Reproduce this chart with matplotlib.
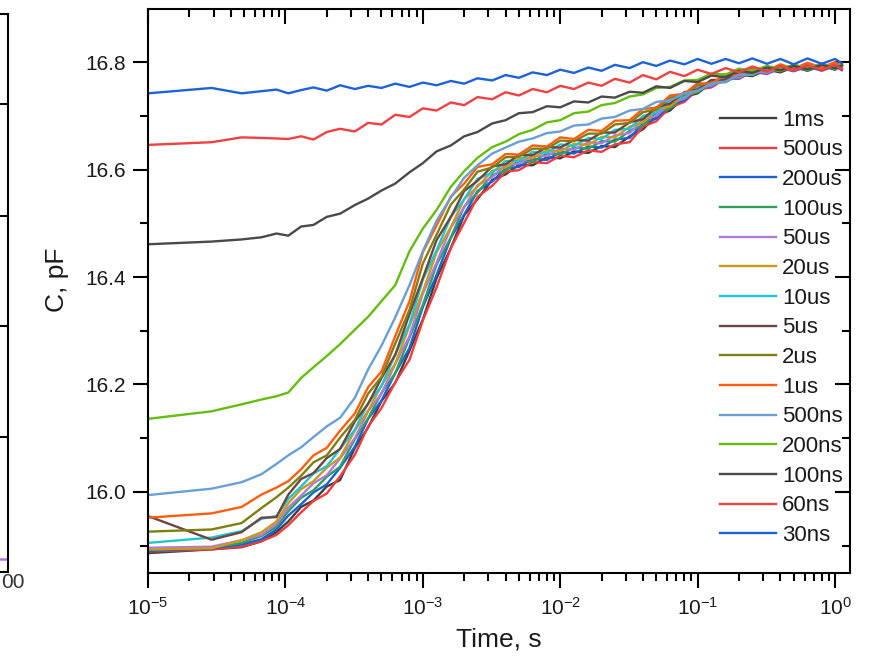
import matplotlib
matplotlib.use("Agg")
import matplotlib.pyplot as plt
from matplotlib.ticker import LogLocator, MultipleLocator, NullFormatter

plt.rcParams['font.family'] = ['Liberation Sans', 'DejaVu Sans']
plt.rcParams['mathtext.fontset'] = 'custom'
plt.rcParams['mathtext.rm'] = 'Liberation Sans'
plt.rcParams['mathtext.it'] = 'Liberation Sans:italic'
plt.rcParams['mathtext.default'] = 'regular'

#-------data-------
t = [1e-5, 2.9e-5, 4.8e-5, 6.7e-5, 8.6e-5, 1.05e-4, 1.3e-4, 1.6e-4, 2e-4, 2.5e-4,
     3.2e-4, 4e-4, 5e-4, 6.3e-4, 8e-4, 1e-3, 1.26e-3, 1.6e-3, 2e-3, 2.5e-3,
     3.2e-3, 4e-3, 5e-3, 6.3e-3, 8e-3, 1e-2, 1.26e-2, 1.6e-2, 2e-2, 2.5e-2,
     3.2e-2, 4e-2, 5e-2, 6.3e-2, 8e-2, 0.1, 0.126, 0.16, 0.2, 0.25,
     0.32, 0.4, 0.5, 0.63, 0.8, 1.0, 1.12]

c_1ms = [15.886, 15.893, 15.897, 15.908, 15.925, 15.945, 15.972, 15.984, 16.010, 16.022,
         16.082, 16.120, 16.169, 16.203, 16.263, 16.321, 16.398, 16.454, 16.515, 16.545,
         16.581, 16.591, 16.609, 16.608, 16.623, 16.621, 16.634, 16.631, 16.644, 16.642,
         16.662, 16.675, 16.700, 16.710, 16.735, 16.742, 16.762, 16.763, 16.777, 16.774,
         16.786, 16.781, 16.791, 16.784, 16.793, 16.786, 16.794]
c_500us = [15.889, 15.893, 15.898, 15.908, 15.920, 15.938, 15.962, 15.983, 15.997, 16.029,
           16.069, 16.122, 16.156, 16.204, 16.246, 16.319, 16.381, 16.454, 16.501, 16.549,
           16.570, 16.596, 16.599, 16.614, 16.612, 16.626, 16.623, 16.636, 16.633, 16.647,
           16.651, 16.680, 16.690, 16.716, 16.726, 16.749, 16.753, 16.770, 16.769, 16.782,
           16.778, 16.789, 16.783, 16.792, 16.784, 16.793, 16.785]
c_200us = [15.890, 15.895, 15.902, 15.912, 15.930, 15.956, 15.977, 15.999, 16.014, 16.045,
           16.084, 16.136, 16.170, 16.221, 16.268, 16.344, 16.404, 16.473, 16.516, 16.560,
           16.578, 16.602, 16.605, 16.620, 16.618, 16.633, 16.630, 16.643, 16.641, 16.656,
           16.659, 16.686, 16.695, 16.720, 16.729, 16.751, 16.755, 16.771, 16.770, 16.783,
           16.779, 16.790, 16.784, 16.792, 16.785, 16.794, 16.786]
c_100us = [15.892, 15.896, 15.905, 15.918, 15.935, 15.964, 15.989, 16.003, 16.028, 16.047,
           16.098, 16.137, 16.184, 16.221, 16.287, 16.348, 16.423, 16.474, 16.531, 16.557,
           16.590, 16.598, 16.616, 16.615, 16.630, 16.628, 16.641, 16.639, 16.653, 16.652,
           16.672, 16.682, 16.706, 16.714, 16.738, 16.744, 16.763, 16.764, 16.779, 16.776,
           16.788, 16.783, 16.793, 16.785, 16.795, 16.787, 16.795]
c_50us = [15.896, 15.898, 15.910, 15.920, 15.940, 15.971, 15.993, 16.016, 16.031, 16.062,
          16.100, 16.150, 16.183, 16.238, 16.290, 16.369, 16.427, 16.492, 16.530, 16.571,
          16.586, 16.609, 16.611, 16.626, 16.625, 16.639, 16.637, 16.651, 16.649, 16.664,
          16.668, 16.693, 16.700, 16.724, 16.732, 16.753, 16.756, 16.773, 16.771, 16.784,
          16.780, 16.791, 16.785, 16.794, 16.787, 16.796, 16.788]
c_20us = [15.893, 15.895, 15.910, 15.925, 15.945, 15.979, 16.005, 16.020, 16.045, 16.064,
          16.114, 16.151, 16.198, 16.239, 16.309, 16.373, 16.446, 16.493, 16.545, 16.568,
          16.598, 16.604, 16.621, 16.621, 16.636, 16.634, 16.648, 16.646, 16.661, 16.660,
          16.680, 16.688, 16.711, 16.718, 16.741, 16.746, 16.765, 16.765, 16.780, 16.777,
          16.789, 16.784, 16.794, 16.787, 16.796, 16.789, 16.797]
c_10us = [15.905, 15.915, 15.927, 15.950, 15.955, 15.987, 16.010, 16.034, 16.048, 16.080,
          16.116, 16.165, 16.197, 16.256, 16.312, 16.395, 16.450, 16.512, 16.545, 16.583,
          16.594, 16.616, 16.616, 16.633, 16.631, 16.647, 16.644, 16.659, 16.657, 16.674,
          16.676, 16.700, 16.706, 16.730, 16.735, 16.757, 16.758, 16.775, 16.773, 16.787,
          16.782, 16.794, 16.787, 16.796, 16.788, 16.798, 16.789]
c_5us = [15.955, 15.911, 15.925, 15.952, 15.953, 15.995, 16.024, 16.035, 16.063, 16.080,
         16.131, 16.164, 16.212, 16.255, 16.331, 16.398, 16.469, 16.512, 16.560, 16.579,
         16.606, 16.610, 16.627, 16.627, 16.642, 16.641, 16.655, 16.654, 16.669, 16.669,
         16.688, 16.694, 16.716, 16.723, 16.744, 16.749, 16.767, 16.767, 16.781, 16.778,
         16.790, 16.785, 16.795, 16.788, 16.797, 16.790, 16.797]
c_2us = [15.926, 15.930, 15.942, 15.970, 15.990, 16.008, 16.030, 16.055, 16.068, 16.101,
         16.134, 16.183, 16.214, 16.276, 16.339, 16.425, 16.479, 16.535, 16.563, 16.596,
         16.604, 16.623, 16.624, 16.639, 16.639, 16.654, 16.653, 16.667, 16.667, 16.684,
         16.687, 16.707, 16.712, 16.734, 16.739, 16.758, 16.760, 16.776, 16.774, 16.787,
         16.783, 16.794, 16.788, 16.797, 16.790, 16.799, 16.791]
c_1us = [15.952, 15.960, 15.972, 15.995, 16.008, 16.020, 16.042, 16.068, 16.082, 16.114,
         16.146, 16.195, 16.224, 16.290, 16.355, 16.446, 16.496, 16.550, 16.574, 16.605,
         16.610, 16.629, 16.628, 16.645, 16.643, 16.660, 16.657, 16.674, 16.672, 16.691,
         16.692, 16.713, 16.715, 16.738, 16.741, 16.761, 16.760, 16.778, 16.775, 16.789,
         16.784, 16.796, 16.788, 16.799, 16.790, 16.800, 16.792]
c_500ns = [15.994, 16.006, 16.018, 16.033, 16.052, 16.068, 16.083, 16.102, 16.122, 16.138,
           16.175, 16.228, 16.272, 16.325, 16.385, 16.448, 16.505, 16.548, 16.585, 16.608,
           16.630, 16.641, 16.652, 16.658, 16.668, 16.671, 16.682, 16.684, 16.695, 16.698,
           16.710, 16.713, 16.726, 16.729, 16.742, 16.747, 16.760, 16.764, 16.777, 16.777,
           16.789, 16.786, 16.795, 16.789, 16.797, 16.790, 16.796]
c_200ns = [16.136, 16.150, 16.163, 16.172, 16.178, 16.185, 16.212, 16.232, 16.253, 16.275,
           16.302, 16.326, 16.355, 16.385, 16.448, 16.490, 16.525, 16.568, 16.597, 16.622,
           16.642, 16.652, 16.666, 16.674, 16.688, 16.692, 16.705, 16.708, 16.720, 16.724,
           16.736, 16.740, 16.752, 16.754, 16.766, 16.767, 16.779, 16.777, 16.788, 16.784,
           16.793, 16.788, 16.795, 16.789, 16.796, 16.790, 16.795]
c_100ns = [16.461, 16.466, 16.470, 16.474, 16.481, 16.477, 16.494, 16.497, 16.512, 16.518,
           16.534, 16.546, 16.561, 16.574, 16.595, 16.612, 16.634, 16.645, 16.662, 16.670,
           16.686, 16.692, 16.705, 16.707, 16.718, 16.716, 16.727, 16.725, 16.736, 16.734,
           16.745, 16.743, 16.755, 16.752, 16.765, 16.763, 16.775, 16.772, 16.784, 16.780,
           16.790, 16.785, 16.793, 16.787, 16.795, 16.789, 16.794]
c_60ns = [16.646, 16.651, 16.660, 16.659, 16.658, 16.657, 16.662, 16.656, 16.670, 16.676,
          16.671, 16.687, 16.684, 16.702, 16.698, 16.714, 16.710, 16.725, 16.720, 16.735,
          16.731, 16.744, 16.738, 16.750, 16.744, 16.756, 16.750, 16.762, 16.756, 16.769,
          16.762, 16.776, 16.768, 16.782, 16.774, 16.786, 16.778, 16.789, 16.781, 16.792,
          16.783, 16.793, 16.785, 16.794, 16.786, 16.795, 16.788]
c_30ns = [16.742, 16.752, 16.742, 16.746, 16.749, 16.742, 16.748, 16.753, 16.747, 16.757,
          16.750, 16.756, 16.752, 16.760, 16.754, 16.762, 16.757, 16.765, 16.760, 16.770,
          16.766, 16.776, 16.771, 16.781, 16.776, 16.786, 16.780, 16.790, 16.784, 16.795,
          16.789, 16.800, 16.793, 16.803, 16.796, 16.806, 16.797, 16.806, 16.798, 16.807,
          16.797, 16.806, 16.796, 16.807, 16.797, 16.806, 16.798]

labels = ['1ms', '500us', '200us', '100us', '50us', '20us', '10us', '5us',
          '2us', '1us', '500ns', '200ns', '100ns', '60ns', '30ns']
colors = ['#3f3f3f', '#f23b3d', '#1c60d6', '#2e9e5b', '#b178e0', '#cc9a1a',
          '#1fc6d0', '#6e4545', '#7f7f10', '#ff5e0e', '#6a9fd4', '#64bd0f',
          '#4a4a4a', '#f04040', '#1c62d8']
series = [c_1ms, c_500us, c_200us, c_100us, c_50us, c_20us, c_10us, c_5us,
          c_2us, c_1us, c_500ns, c_200ns, c_100ns, c_60ns, c_30ns]

# neighbouring panel that is cut off on the left
left_ticks = [135, 246, 356, 468]
left_trace = [13, 13]
left_label = '00'   # only the end of its last tick label is visible

txt = '#1a1a1a'
fig = plt.figure(figsize=(8.74, 6.63), dpi=100)

#-------cut off panel at the left edge-------
ax0 = fig.add_axes([-0.5, 1 - 572 / 663, 0.5 + 8 / 874, 558 / 663])
ax0.plot([0.9, 1.0], left_trace, color='#b178e0', lw=1.8)
ax0.set_xlim(0, 1)
ax0.set_ylim(0, 558)
ax0.spines['left'].set_visible(False)
for s in ['right', 'top', 'bottom']:
    ax0.spines[s].set_linewidth(1.5)
ax0.yaxis.tick_right()
ax0.set_yticks(left_ticks)
ax0.set_yticklabels([])
ax0.tick_params(axis='y', direction='in', length=11, width=1.5)
ax0.set_xticks([])
fig.text(1 / 874, 1 - 582 / 663, left_label, fontsize=15, color='#333333',
         ha='left', va='center')

#-------main panel-------
ax = fig.add_axes([148 / 874, 1 - 573 / 663, 702 / 874, 564 / 663])
for lab, y, col in zip(labels, series, colors):
    ax.plot(t, y, color=col, lw=1.7, label=lab)

ax.set_xscale('log')
ax.set_xlim(1e-5, 1.285)
ax.set_ylim(15.849, 16.899)

ax.xaxis.set_major_locator(LogLocator(base=10, numticks=10))
ax.xaxis.set_minor_locator(LogLocator(base=10, subs=range(2, 10), numticks=20))
ax.xaxis.set_minor_formatter(NullFormatter())
ax.yaxis.set_major_locator(MultipleLocator(0.2))
ax.yaxis.set_minor_locator(MultipleLocator(0.1))
ax.yaxis.set_major_formatter(plt.FuncFormatter(lambda v, p: '%.1f' % v))

for s in ax.spines.values():
    s.set_linewidth(1.5)
ax.tick_params(which='both', top=True, right=True, width=1.5, labelsize=15,
               labelcolor=txt)
ax.tick_params(which='major', length=11)
ax.tick_params(which='minor', length=6)
ax.tick_params(axis='x', which='major', pad=6)
ax.tick_params(axis='y', which='major', pad=5)
# origin style: ticks out on bottom/left, in on top/right
ax.xaxis.set_tick_params(which='both', direction='out')
ax.yaxis.set_tick_params(which='both', direction='out')
for tk in ax.xaxis.get_major_ticks() + ax.xaxis.get_minor_ticks():
    tk.tick2line.set_marker(3)
for tk in ax.yaxis.get_major_ticks() + ax.yaxis.get_minor_ticks():
    tk.tick2line.set_marker(0)

ax.set_xlabel('Time, s', fontsize=19, color=txt)
ax.set_ylabel('C, pF', fontsize=19, color=txt)
ax.xaxis.set_label_coords(0.5, -0.097)
ax.yaxis.set_label_coords(-0.112, 0.52)

ax.legend(loc='center left', bbox_to_anchor=(720 / 874, 1 - 328 / 663),
          bbox_transform=fig.transFigure, frameon=False, fontsize=16,
          handlelength=2.5, handletextpad=0.3, labelspacing=0.39,
          borderpad=0, borderaxespad=0, labelcolor=txt)

fig.savefig('out.png', dpi=100)
